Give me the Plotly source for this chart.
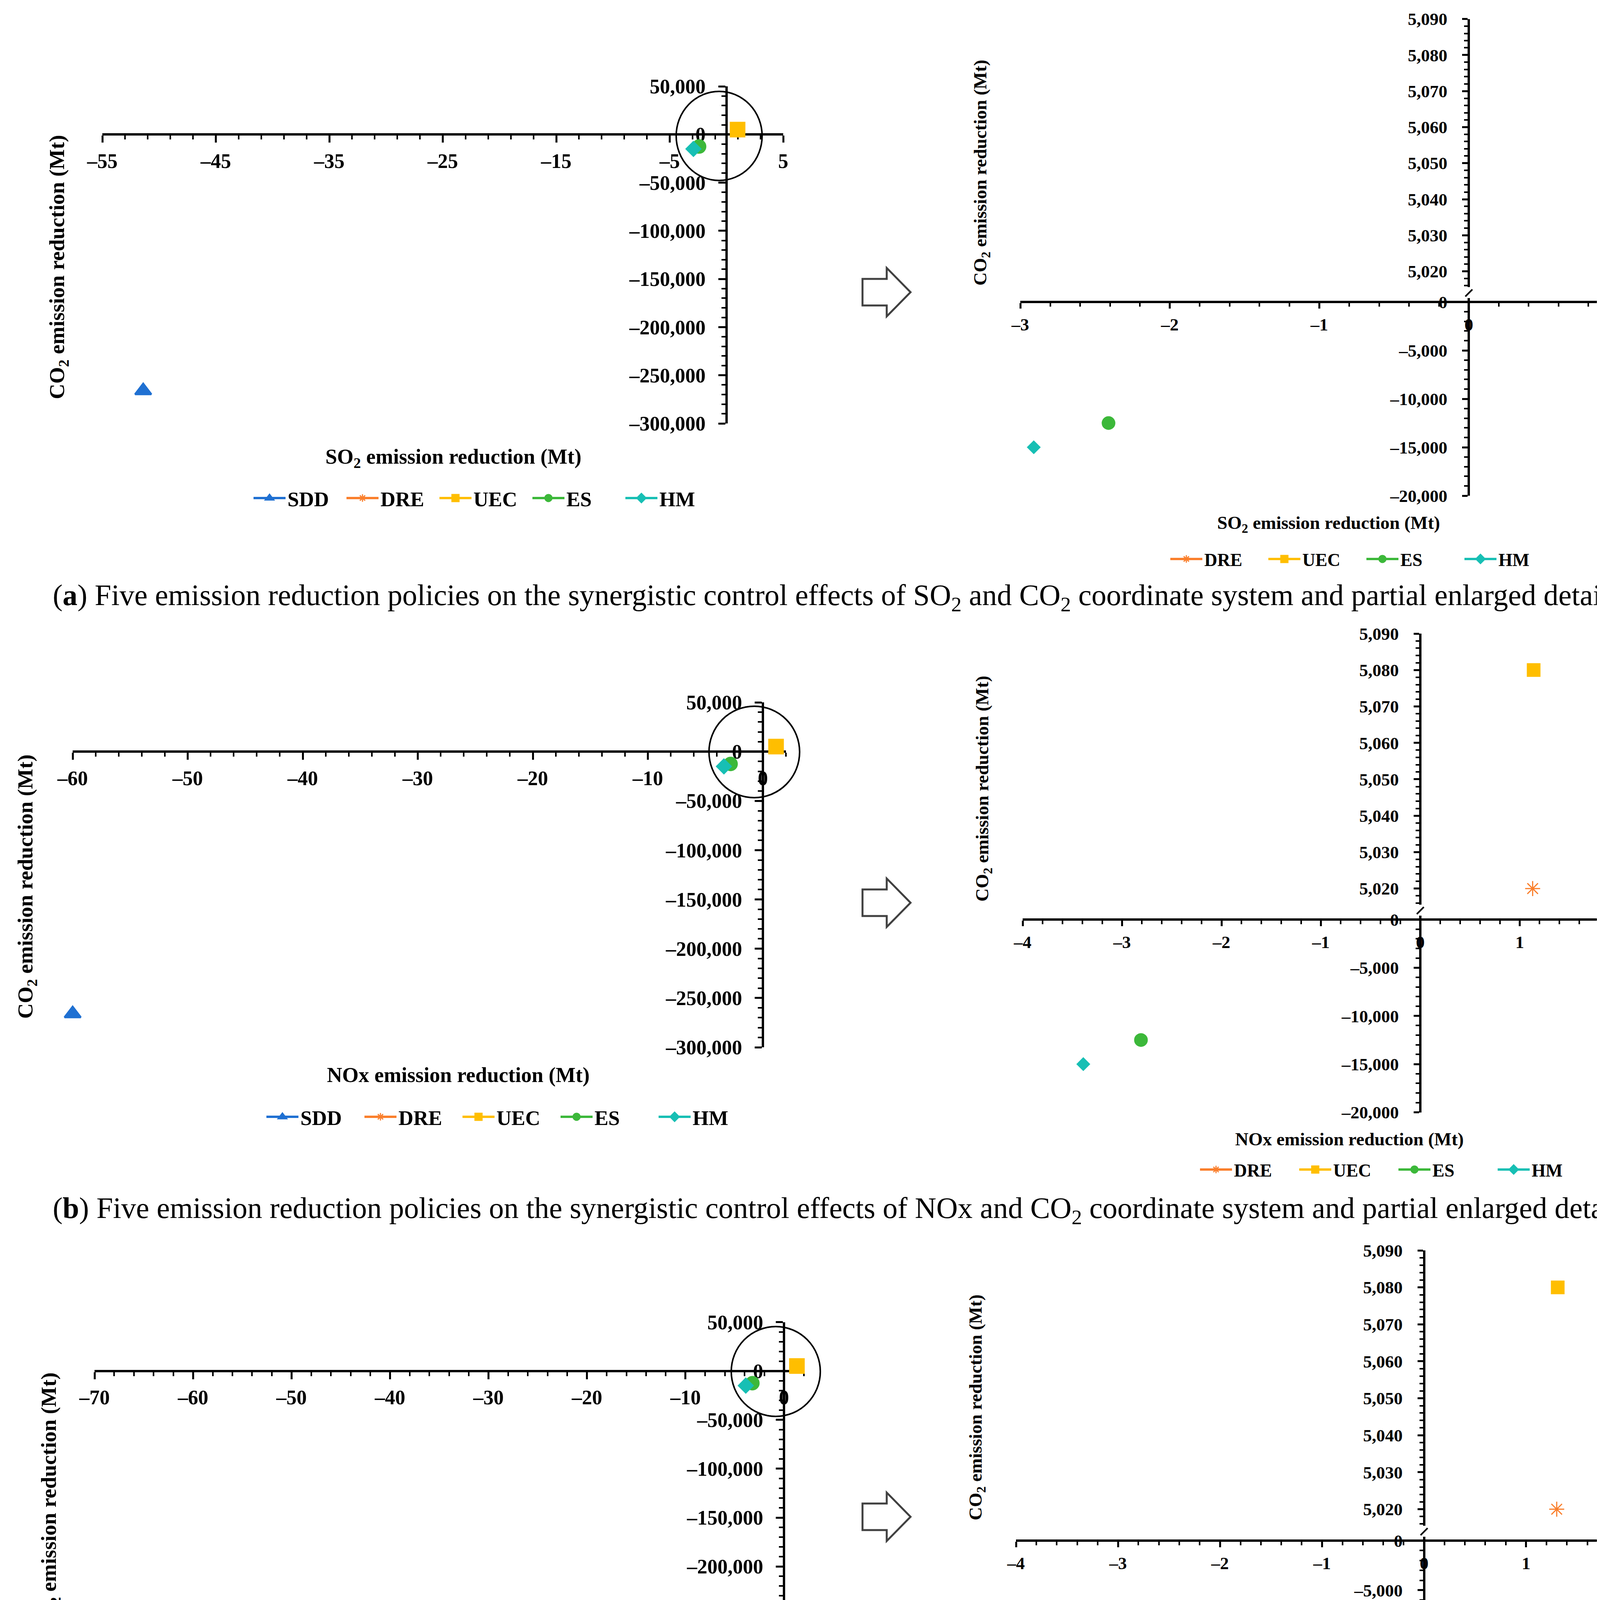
import plotly.graph_objects as go

# ---------------- data ----------------
policies = ["SDD", "DRE", "UEC", "ES", "HM"]
co2_reduction = [-266000, 5020, 5080, -12500, -15000]
so2_reduction = [-51.4, 0.97, 0.98, -2.41, -2.91]
nox_reduction = [-60.0, 1.13, 1.14, -2.81, -3.39]
pm_reduction = [-68.5, 1.30, 1.31, -3.21, -3.88]

so2_main_ticks = [-55, -45, -35, -25, -15, -5, 5]
nox_main_ticks = [-60, -50, -40, -30, -20, -10, 0]
pm_main_ticks = [-70, -60, -50, -40, -30, -20, -10, 0]
co2_main_ticks = [50000, 0, -50000, -100000, -150000, -200000, -250000, -300000]
so2_zoom_ticks = [-3, -2, -1, 0, 1]
nox_zoom_ticks = [-4, -3, -2, -1, 0, 1, 2]
pm_zoom_ticks = [-4, -3, -2, -1, 0, 1, 2]
co2_zoom_upper_ticks = [5020, 5030, 5040, 5050, 5060, 5070, 5080, 5090]
co2_zoom_lower_ticks = [0, -5000, -10000, -15000, -20000]


def tick_label(v):
    return f"{v:,}".replace("-", "\u2013")


captions = [
    "(<b>a</b>) Five emission reduction policies on the synergistic control effects of SO<sub>2</sub> and CO<sub>2</sub> coordinate system and partial enlarged detail",
    "(<b>b</b>) Five emission reduction policies on the synergistic control effects of NOx and CO<sub>2</sub> coordinate system and partial enlarged detail",
    "(<b>c</b>) Five emission reduction policies on the synergistic control effects of PM and CO<sub>2</sub> coordinate system and partial enlarged detail",
]
x_titles = ["SO<sub>2</sub> emission reduction (Mt)",
            "NOx emission reduction (Mt)",
            "PM emission reduction (Mt)"]
y_title = "CO<sub>2</sub> emission reduction (Mt)"

# ---------------- styling ----------------
W, H = 4232, 4746
FONT = "Liberation Serif"
colors = {"SDD": "#1F70D2", "DRE": "#FA7F2C", "UEC": "#FFBE00", "ES": "#3CB83A", "HM": "#17BFB4"}
symbols = {"SDD": "triangle-up", "DRE": "asterisk-open", "UEC": "square", "ES": "circle", "HM": "diamond"}
size_main = {"SDD": 36, "DRE": 32, "UEC": 35, "ES": 32, "HM": 27}
size_zoom = {"SDD": 34, "DRE": 32, "UEC": 30, "ES": 30, "HM": 22}
outline = {"SDD": 5, "DRE": 3, "UEC": 5, "ES": 5, "HM": 5}


def fx(p):
    return p / W


def fy(p):
    return 1 - p / H


x_series = [so2_reduction, nox_reduction, pm_reduction]
main_xticks = [so2_main_ticks, nox_main_ticks, pm_main_ticks]
zoom_xticks = [so2_zoom_ticks, nox_zoom_ticks, pm_zoom_ticks]

left_specs = [
    dict(xr=[-55, 5], xpx=[254, 1997], ypx=[213, 1076], xt=(1152, 1164), yt=(141, 676),
         leg=(636, 1267), ew=141, circ=(1833, 340, 110, 114)),
    dict(xr=[-60, 2], xpx=[178, 2004], ypx=[1790, 2673], xt=(1165, 2744), yt=(60, 2262),
         leg=(669, 2851), ew=154, circ=(1923, 1917, 116, 117)),
    dict(xr=[-70, 2], xpx=[234, 2049.5], ypx=[3376.5, 4252.6], xt=(1151, 4329), yt=(120, 3844),
         leg=(611, 4417), ew=152, circ=(1978, 3503, 114, 115)),
]
right_specs = [
    dict(xr=[-3, 1], xpx=[2604, 4135], axis=765, top=40.6, bot=1261, xt=(3393, 1334), yt=(2505, 434),
         leg=(2983, 1423), ew=154),
    dict(xr=[-4, 2], xpx=[2610, 4137], axis=2346, top=1614, bot=2839.5, xt=(3446, 2908), yt=(2509, 2011),
         leg=(3059, 2986), ew=157),
    dict(xr=[-4, 2], xpx=[2593, 4160], axis=3936, top=3193, bot=4443.5, xt=(3385, 4516), yt=(2493, 3595),
         leg=(2960, 4587), ew=161),
]
arrow_cy = [740, 2303, 3875]
caption_y = [1521, 3090, 4674]

fig = go.Figure()
shapes = []
annotations = []
layout = {}

axis_common = dict(showline=True, linecolor="black", linewidth=6, showgrid=False, zeroline=False,
                   ticks="outside", tickcolor="black", layer="below traces", fixedrange=True,
                   automargin=False)

xn = 0
yn = 0


def name(prefix, n):
    return prefix if n == 1 else f"{prefix}{n}"


def marker_for(pol, sizes):
    return dict(symbol=symbols[pol], size=sizes[pol], color=colors[pol],
                line=dict(color=colors[pol], width=outline[pol]))


for p in range(3):
    # ---------- main (left) panel ----------
    L = left_specs[p]
    xn += 1
    yn += 1
    xa, ya = xn, yn
    x0, x1 = L["xpx"]
    yt_px, yb_px = L["ypx"]
    xr = L["xr"]
    zero_y_px = yt_px + (50000 - 0) / 350000 * (yb_px - yt_px)
    zero_x_px = x0 + (0 - xr[0]) / (xr[1] - xr[0]) * (x1 - x0)
    layout[name("xaxis", xa)] = dict(
        axis_common, domain=[fx(x0), fx(x1)], range=xr, anchor="free", position=fy(zero_y_px),
        tickmode="array", tickvals=main_xticks[p], ticktext=[tick_label(v) for v in main_xticks[p]],
        ticklen=18, tickwidth=5, ticklabelstandoff=2,
        tickfont=dict(family=FONT, size=52, color="black", weight="bold"),
        minor=dict(tickmode="linear", tick0=xr[0], dtick=2, ticks="outside", ticklen=10, tickwidth=4,
                   tickcolor="black", showgrid=False))
    layout[name("yaxis", ya)] = dict(
        axis_common, domain=[fy(yb_px), fy(yt_px)], range=[-300000, 50000], anchor="free",
        position=fx(zero_x_px), tickmode="array", tickvals=co2_main_ticks,
        ticktext=[tick_label(v) for v in co2_main_ticks], ticklen=18, tickwidth=5, ticklabelstandoff=22,
        tickfont=dict(family=FONT, size=52, color="black", weight="bold"),
        minor=dict(tickmode="linear", tick0=0, dtick=10000, ticks="outside", ticklen=10, tickwidth=4,
                   tickcolor="black", showgrid=False))
    leg = "legend" if p == 0 else f"legend{2 * p + 1}"
    for i, pol in enumerate(policies):
        fig.add_trace(go.Scatter(
            x=[x_series[p][i]], y=[co2_reduction[i]], mode="lines+markers", name=pol,
            xaxis=name("x", xa), yaxis=name("y", ya), legend=leg, cliponaxis=False,
            line=dict(color=colors[pol], width=6), marker=marker_for(pol, size_main)))
    layout[leg] = dict(orientation="h", x=fx(L["leg"][0]), y=fy(L["leg"][1]), xanchor="left",
                       yanchor="middle", itemwidth=82, entrywidth=L["ew"], entrywidthmode="pixels",
                       bgcolor="rgba(0,0,0,0)",
                       font=dict(family=FONT, size=53, color="black", weight="bold"))
    annotations.append(dict(text=x_titles[p], x=fx(L["xt"][0]), y=fy(L["xt"][1]), xref="paper", yref="paper",
                            showarrow=False, xanchor="center", yanchor="middle",
                            font=dict(family=FONT, size=54, color="black", weight="bold")))
    annotations.append(dict(text=y_title, x=fx(L["yt"][0]), y=fy(L["yt"][1]), xref="paper", yref="paper",
                            showarrow=False, textangle=-90, xanchor="center", yanchor="middle",
                            font=dict(family=FONT, size=55, color="black", weight="bold")))
    cx, cy, rx, ry = L["circ"]
    shapes.append(dict(type="circle", xref="paper", yref="paper", x0=fx(cx - rx), x1=fx(cx + rx),
                       y0=fy(cy + ry), y1=fy(cy - ry), line=dict(color="black", width=4),
                       fillcolor="rgba(0,0,0,0)"))

    # ---------- zoomed (right) panel ----------
    R = right_specs[p]
    xn += 1
    xz = xn
    yn += 1
    yu = yn
    yn += 1
    yl = yn
    x0, x1 = R["xpx"]
    xr = R["xr"]
    axis_px = R["axis"]
    zero_x_px = x0 + (0 - xr[0]) / (xr[1] - xr[0]) * (x1 - x0)
    us = (axis_px - R["top"]) / (5090 - 5011.5)
    ls = (R["bot"] - axis_px) / 20000.0
    layout[name("xaxis", xz)] = dict(
        axis_common, domain=[fx(x0), fx(x1)], range=xr, anchor="free", position=fy(axis_px),
        tickmode="array", tickvals=zoom_xticks[p], ticktext=[tick_label(v) for v in zoom_xticks[p]],
        ticklen=14, tickwidth=5, ticklabelstandoff=2,
        tickfont=dict(family=FONT, size=45, color="black", weight="bold"),
        minor=dict(tickmode="linear", tick0=xr[0], dtick=0.2, ticks="outside", ticklen=9, tickwidth=4,
                   tickcolor="black", showgrid=False))
    layout[name("yaxis", yu)] = dict(
        axis_common, domain=[fy(axis_px - 38), fy(R["top"])], range=[5011.5 + 38 / us, 5090],
        anchor="free", position=fx(zero_x_px), tickmode="array", tickvals=co2_zoom_upper_ticks,
        ticktext=[tick_label(v) for v in co2_zoom_upper_ticks], ticklen=14, tickwidth=5,
        ticklabelstandoff=29, tickfont=dict(family=FONT, size=45, color="black", weight="bold"),
        minor=dict(tickmode="linear", tick0=5020, dtick=2, ticks="outside", ticklen=9, tickwidth=4,
                   tickcolor="black", showgrid=False))
    layout[name("yaxis", yl)] = dict(
        axis_common, domain=[fy(R["bot"]), fy(axis_px - 10)], range=[-20000, 10 / ls],
        anchor="free", position=fx(zero_x_px), tickmode="array", tickvals=co2_zoom_lower_ticks,
        ticktext=[tick_label(v) for v in co2_zoom_lower_ticks], ticklen=14, tickwidth=5,
        ticklabelstandoff=29, tickfont=dict(family=FONT, size=45, color="black", weight="bold"),
        minor=dict(tickmode="linear", tick0=0, dtick=1000, ticks="outside", ticklen=9, tickwidth=4,
                   tickcolor="black", showgrid=False))
    leg = f"legend{2 * p + 2}"
    for i, pol in enumerate(policies):
        if pol == "SDD":
            continue
        yaxis_ref = yu if co2_reduction[i] > 0 else yl
        fig.add_trace(go.Scatter(
            x=[x_series[p][i]], y=[co2_reduction[i]], mode="lines+markers", name=pol,
            xaxis=name("x", xz), yaxis=name("y", yaxis_ref), legend=leg, cliponaxis=False,
            line=dict(color=colors[pol], width=6), marker=marker_for(pol, size_zoom)))
    layout[leg] = dict(orientation="h", x=fx(R["leg"][0]), y=fy(R["leg"][1]), xanchor="left",
                       yanchor="middle", itemwidth=82, entrywidth=R["ew"], entrywidthmode="pixels",
                       bgcolor="rgba(0,0,0,0)",
                       font=dict(family=FONT, size=46, color="black", weight="bold"))
    annotations.append(dict(text=x_titles[p], x=fx(R["xt"][0]), y=fy(R["xt"][1]), xref="paper", yref="paper",
                            showarrow=False, xanchor="center", yanchor="middle",
                            font=dict(family=FONT, size=47, color="black", weight="bold")))
    annotations.append(dict(text=y_title, x=fx(R["yt"][0]), y=fy(R["yt"][1]), xref="paper", yref="paper",
                            showarrow=False, textangle=-90, xanchor="center", yanchor="middle",
                            font=dict(family=FONT, size=47, color="black", weight="bold")))
    # axis break mark
    shapes.append(dict(type="line", xref="paper", yref="paper",
                       x0=fx(zero_x_px - 9), y0=fy(axis_px - 14), x1=fx(zero_x_px + 9), y1=fy(axis_px - 32),
                       line=dict(color="black", width=4)))

    # ---------- arrow between the panels ----------
    cyp = arrow_cy[p]
    pts = [(2200, cyp - 34), (2262, cyp - 34), (2262, cyp - 62), (2323, cyp),
           (2262, cyp + 62), (2262, cyp + 34), (2200, cyp + 34)]
    path = "M " + " L ".join(f"{fx(a):.5f},{fy(b):.5f}" for a, b in pts) + " Z"
    shapes.append(dict(type="path", xref="paper", yref="paper", path=path,
                       line=dict(color="#404040", width=5), fillcolor="white"))

    # ---------- caption ----------
    annotations.append(dict(text=captions[p], x=fx(125), y=fy(caption_y[p]), xref="paper", yref="paper",
                            showarrow=False, xanchor="left", yanchor="middle",
                            font=dict(family=FONT, size=76, color="black")))

fig.update_layout(width=W, height=H, margin=dict(l=0, r=0, t=0, b=0, pad=0, autoexpand=False),
                  paper_bgcolor="white", plot_bgcolor="white", showlegend=True,
                  shapes=shapes, annotations=annotations, **layout)

fig.write_html("out.html")
